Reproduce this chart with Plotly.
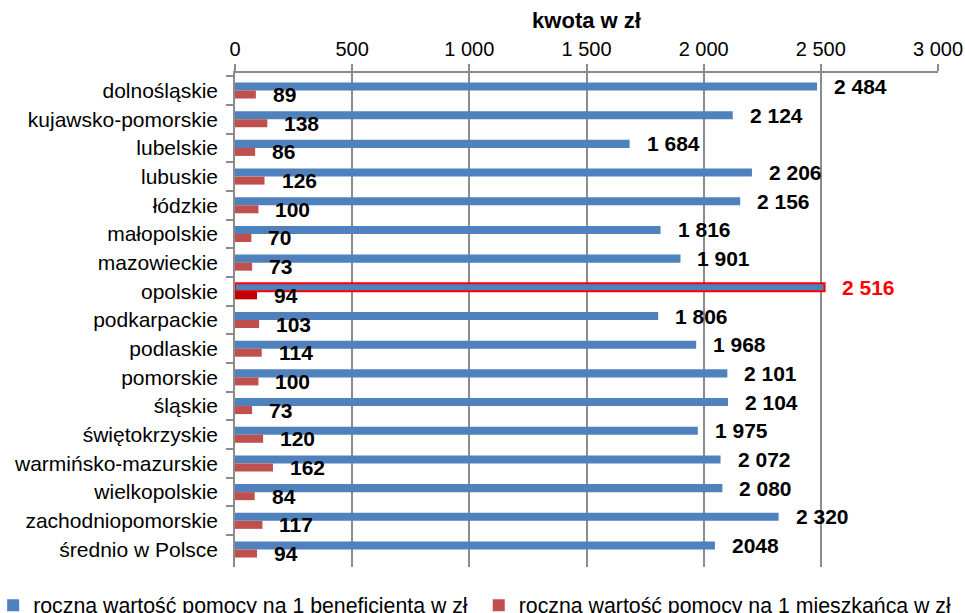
import plotly.graph_objects as go

categories = ["dolnośląskie", "kujawsko-pomorskie", "lubelskie", "lubuskie", "łódzkie",
              "małopolskie", "mazowieckie", "opolskie", "podkarpackie", "podlaskie",
              "pomorskie", "śląskie", "świętokrzyskie", "warmińsko-mazurskie",
              "wielkopolskie", "zachodniopomorskie", "średnio w Polsce"]
per_beneficiary = [2484, 2124, 1684, 2206, 2156, 1816, 1901, 2516, 1806, 1968,
                   2101, 2104, 1975, 2072, 2080, 2320, 2048]
per_resident = [89, 138, 86, 126, 100, 70, 73, 94, 103, 114, 100, 73, 120, 162, 84, 117, 94]
beneficiary_labels = ["2 484", "2 124", "1 684", "2 206", "2 156", "1 816", "1 901", "2 516",
                      "1 806", "1 968", "2 101", "2 104", "1 975", "2 072", "2 080", "2 320", "2048"]
resident_labels = [str(v) for v in per_resident]
highlight = "opolskie"
series_names = ["roczna wartość pomocy na 1 beneficjenta w zł",
                "roczna wartość pomocy na 1 mieszkańca w zł"]

BLUE = "#4F81BD"
RED = "#C0504D"
DARK_RED = "#C00000"
GRID = "#8C8C8C"
FONT = "Liberation Sans, Arial, sans-serif"

is_hl = [c == highlight for c in categories]

fig = go.Figure()
fig.add_trace(go.Bar(
    y=categories, x=per_beneficiary, orientation="h", name=series_names[0],
    legend="legend",
    marker=dict(color=BLUE,
                line=dict(color=["#FF0000" if h else BLUE for h in is_hl],
                          width=[2 if h else 0 for h in is_hl])),
))
fig.add_trace(go.Bar(
    y=categories, x=per_resident, orientation="h", name=series_names[1],
    legend="legend2",
    marker=dict(color=[DARK_RED if h else RED for h in is_hl], line=dict(width=0)),
))

annotations = []
for c, v, lab, h in zip(categories, per_beneficiary, beneficiary_labels, is_hl):
    annotations.append(dict(x=v, y=c, text=lab, showarrow=False, xanchor="left",
                            yanchor="middle", xshift=15, yshift=4,
                            font=dict(size=21, color="#FF0000" if h else "black",
                                      family=FONT, weight="bold")))
for c, v, lab in zip(categories, per_resident, resident_labels):
    annotations.append(dict(x=v, y=c, text=lab, showarrow=False, xanchor="left",
                            yanchor="middle", xshift=15, yshift=-4,
                            font=dict(size=21, color="black", family=FONT, weight="bold")))

legend_style = dict(orientation="h", xref="paper", yref="paper",
                    xanchor="left", yanchor="top", bgcolor="rgba(0,0,0,0)",
                    font=dict(size=21.3, family=FONT, color="black"),
                    itemclick=False, itemdoubleclick=False)

fig.update_layout(
    width=965, height=613,
    margin=dict(l=235, r=27, t=73, b=46, autoexpand=False),
    paper_bgcolor="white", plot_bgcolor="white",
    barmode="group", bargap=0.44, bargroupgap=0,
    separators=", ",
    font=dict(family=FONT, size=20, color="black"),
    showlegend=True,
    legend=dict(legend_style, x=-0.344, y=-0.036),
    legend2=dict(legend_style, x=0.3467, y=-0.036),
    annotations=annotations,
    xaxis=dict(side="top", range=[0, 3000], dtick=500, tick0=0, tickformat=",d",
               showgrid=True, gridcolor=GRID, gridwidth=1.5,
               showline=True, linecolor=GRID, linewidth=1.5,
               ticks="outside", ticklen=7, tickcolor=GRID, tickwidth=1.5,
               zeroline=False, automargin=False,
               tickfont=dict(size=20),
               title=dict(text="<b>kwota w zł</b>", font=dict(size=22), standoff=4)),
    yaxis=dict(type="category", autorange="reversed", tickson="boundaries",
               ticks="outside", ticklen=7, tickcolor=GRID, tickwidth=1.5,
               showline=True, linecolor=GRID, linewidth=1.5, showgrid=False,
               automargin=False, tickfont=dict(size=21), ticklabelstandoff=11),
)

fig.write_html("out.html", config={"displayModeBar": False},
               post_script="document.body.style.margin='0px';")
